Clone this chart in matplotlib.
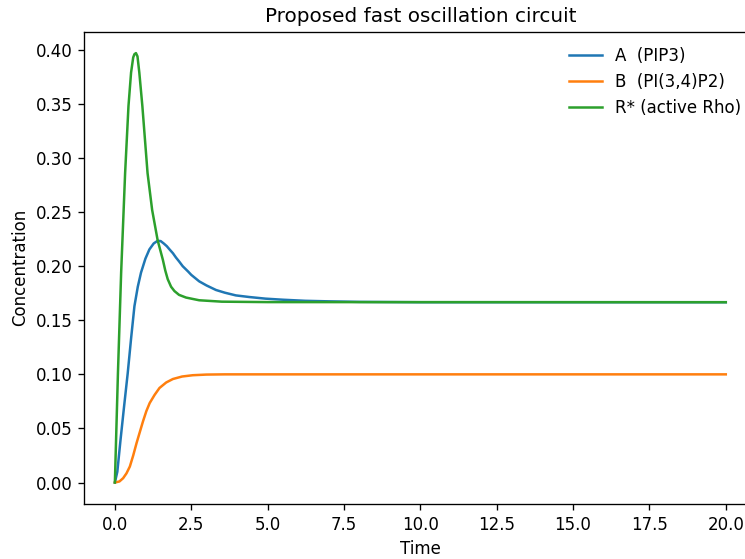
import matplotlib.pyplot as plt

# values
t_a = [0.0, 0.08, 0.185, 0.30, 0.42, 0.53, 0.64, 0.75, 0.855, 1.0, 1.13, 1.27, 1.40,
       1.50, 1.60, 1.70, 1.79, 1.90, 2.0, 2.1, 2.22, 2.4, 2.5, 2.76, 3.0, 3.31, 3.6,
       3.96, 4.4, 4.93, 5.5, 6.23, 7.0, 8.0, 10.0, 20.0]
a_vals = [0.0, 0.010, 0.0395, 0.070, 0.101, 0.133, 0.163, 0.181, 0.194, 0.207, 0.2155, 0.221, 0.2235,
          0.2232, 0.221, 0.2185, 0.2155, 0.212, 0.208, 0.2045, 0.200, 0.195, 0.192, 0.186, 0.1822, 0.178, 0.1755,
          0.173, 0.1715, 0.170, 0.169, 0.168, 0.1675, 0.1670, 0.1667, 0.1667]

t_b = [0.0, 0.15, 0.27, 0.38, 0.49, 0.60, 0.71, 0.82, 0.92, 1.03, 1.14, 1.30, 1.46,
       1.68, 1.90, 2.2, 2.55, 3.0, 3.6, 20.0]
b_vals = [0.0, 0.001, 0.004, 0.0085, 0.0148, 0.025, 0.0365, 0.047, 0.0565, 0.066, 0.0735, 0.081, 0.0874,
          0.0925, 0.0957, 0.098, 0.0992, 0.0998, 0.1, 0.1]

t_r = [0.0, 0.10, 0.205, 0.335, 0.445, 0.53, 0.60, 0.64, 0.69, 0.74, 0.80, 0.90, 1.07, 1.22, 1.40,
       1.57, 1.65, 1.73, 1.84, 1.95, 2.1, 2.33, 2.76, 3.5, 5.0, 20.0]
r_vals = [0.0, 0.101, 0.194, 0.286, 0.348, 0.379, 0.393, 0.396, 0.397, 0.394, 0.379, 0.348, 0.286, 0.252, 0.224,
          0.206, 0.196, 0.188, 0.181, 0.177, 0.1735, 0.171, 0.1685, 0.1672, 0.1668, 0.1667]

labels = ["A  (PIP3)", "B  (PI(3,4)P2)", "R* (active Rho)"]

dpi = 120
fig = plt.figure(figsize=(745 / dpi, 559 / dpi), dpi=dpi)
# axes run past the right edge of the picture, as in the reference crop
ax = fig.add_axes([0.1132, 0.0984, 0.902, 0.845])

ax.plot(t_a, a_vals, label=labels[0])
ax.plot(t_b, b_vals, label=labels[1])
ax.plot(t_r, r_vals, label=labels[2])

ax.set_title("Proposed fast oscillation circuit")
ax.set_xlabel("Time")
ax.set_ylabel("Concentration")
ax.spines["right"].set_visible(False)
ax.legend(loc="upper right", frameon=False)

fig.savefig("out.png", dpi=dpi)
